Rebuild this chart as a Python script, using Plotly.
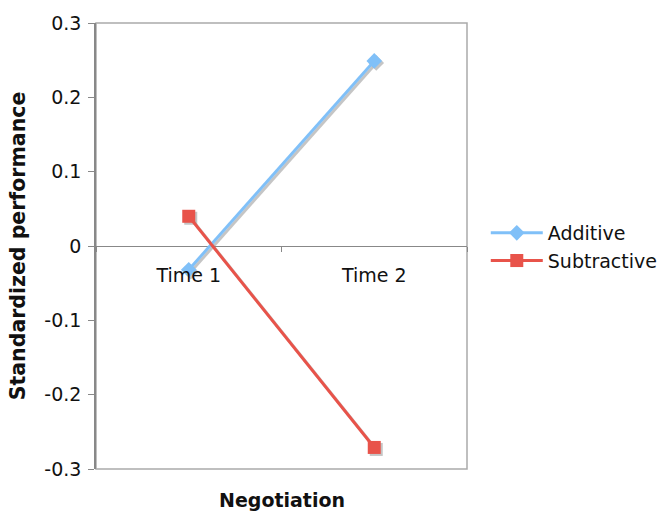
import plotly.graph_objects as go

categories = ["Time 1", "Time 2"]
additive = [-0.032, 0.249]
subtractive = [0.040, -0.271]
y_ticks = [-0.3, -0.2, -0.1, 0, 0.1, 0.2, 0.3]
y_tick_labels = ["-0.3", "-0.2", "-0.1", "0", "0.1", "0.2", "0.3"]

W, H = 659, 513
L, R, T, B = 96, 190, 23, 42
PW, PH = W - L - R, H - T - B
dx, dy = 2 / PW, 2 / PH

blue = "#80c0f8"
red = "#e8534a"
shadow = "rgba(150,150,150,0.55)"
font = "DejaVu Sans, Verdana, sans-serif"

fig = go.Figure()
# shadows on offset hidden axes (x/y), drawn first
fig.add_trace(go.Scatter(x=categories, y=additive, xaxis="x", yaxis="y", mode="lines+markers",
                         line=dict(color=shadow, width=3), marker=dict(symbol="diamond", size=12, color=shadow),
                         showlegend=False, hoverinfo="skip"))
fig.add_trace(go.Scatter(x=categories, y=subtractive, xaxis="x", yaxis="y", mode="lines+markers",
                         line=dict(color=shadow, width=3), marker=dict(symbol="square", size=13, color=shadow),
                         showlegend=False, hoverinfo="skip"))
# main series on visible axes (x2/y2)
fig.add_trace(go.Scatter(x=categories, y=additive, name="Additive", xaxis="x2", yaxis="y2",
                         mode="lines+markers",
                         line=dict(color=blue, width=3), marker=dict(symbol="diamond", size=12, color=blue)))
fig.add_trace(go.Scatter(x=categories, y=subtractive, name="Subtractive", xaxis="x2", yaxis="y2",
                         mode="lines+markers",
                         line=dict(color=red, width=3), marker=dict(symbol="square", size=13, color=red)))

fig.update_layout(
    width=W, height=H,
    margin=dict(l=L, r=R, t=T, b=B, autoexpand=False),
    paper_bgcolor="white", plot_bgcolor="rgba(0,0,0,0)",
    font=dict(family=font, size=19, color="#111"),
    xaxis=dict(type="category", range=[-0.5, 1.5], domain=[dx, 1], anchor="y", visible=False),
    yaxis=dict(range=[-0.3, 0.3], domain=[0, 1 - dy], anchor="x", visible=False),
    xaxis2=dict(type="category", range=[-0.5, 1.5], domain=[0, 1 - dx], anchor="free",
                position=(1 + dy) / 2, automargin=False,
                showgrid=False, showline=False, zeroline=False,
                ticks="outside", tickson="boundaries", ticklen=5, tickcolor="#888",
                ticklabelstandoff=16, tickfont=dict(size=19)),
    yaxis2=dict(range=[-0.3, 0.3], domain=[dy, 1], anchor="x2", automargin=False,
                tickvals=y_ticks, ticktext=y_tick_labels,
                showgrid=False, showline=True, linecolor="#888", linewidth=1.5,
                ticks="outside", ticklen=6, tickcolor="#888",
                zeroline=True, zerolinecolor="#888", zerolinewidth=1,
                tickfont=dict(size=19), ticklabelstandoff=3,
                title=dict(text="<b>Standardized performance</b>", standoff=13, font=dict(size=20.5))),
    legend=dict(x=1.045, y=0.5, yanchor="middle", xanchor="left", font=dict(size=19),
                bgcolor="rgba(0,0,0,0)", tracegroupgap=0, itemwidth=52),
    shapes=[dict(type="rect", xref="paper", yref="paper", x0=0, x1=1 - dx, y0=dy, y1=1,
                 line=dict(color="#aaa", width=1.5), layer="below")],
    annotations=[dict(text="<b>Negotiation</b>", xref="paper", yref="paper", x=(1 - dx) / 2, y=-0.065,
                      yanchor="middle", showarrow=False, font=dict(size=19))],
)

fig.write_html("out.html", config={"displayModeBar": False},
               post_script="document.body.style.margin='0';")
